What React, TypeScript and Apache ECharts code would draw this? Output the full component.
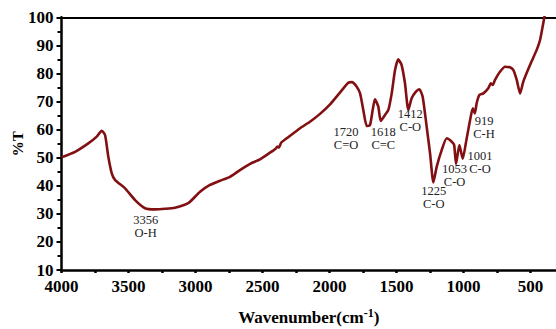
import React, { useEffect, useRef } from "react";
import * as echarts from "echarts";

const wavenumbers = [
  4000, 3899, 3800, 3737, 3700, 3675, 3651, 3625, 3601, 3526, 3451, 3377, 3302, 3228, 3153, 3054,
  2966, 2892, 2817, 2743, 2668, 2593, 2519, 2444, 2400, 2390, 2378, 2360, 2319, 2220, 2146, 2071,
  1996, 1922, 1860, 1834, 1797, 1772, 1748, 1722, 1698, 1678, 1661, 1636, 1618, 1586, 1561, 1536,
  1511, 1487, 1462, 1437, 1412, 1387, 1355, 1330, 1305, 1275, 1250, 1225, 1200, 1163, 1125, 1088,
  1070, 1056, 1031, 1006, 981, 951, 931, 916, 902, 882, 852, 815, 797, 782, 765, 728, 690, 653,
  628, 603, 578, 554, 504, 454, 429, 405, 392,
];
const transmittance = [
  50.1, 52.1, 55.1, 57.5, 59.6, 58.1, 50.4, 44.4, 42.1, 39.1, 34.9, 32.0, 31.6, 31.8, 32.2, 33.8,
  37.9, 40.3, 41.8, 43.2, 45.6, 47.8, 49.4, 51.8, 53.3, 54.0, 53.6, 55.4, 56.9, 60.5, 62.8, 65.6,
  69.0, 73.2, 76.7, 76.9, 75.3, 72.9, 67.0, 61.3, 61.6, 67.0, 70.8, 68.2, 63.1, 65.2, 67.0, 72.9,
  81.2, 85.0, 83.0, 76.5, 67.0, 71.2, 73.5, 74.4, 71.7, 61.0, 51.6, 41.2, 46.8, 52.7, 56.9, 55.7,
  54.5, 47.8, 54.5, 49.6, 55.7, 63.4, 67.6, 65.8, 69.4, 72.3, 72.9, 74.7, 76.5, 75.9, 77.7, 80.6,
  82.4, 82.2, 81.2, 77.7, 72.9, 77.1, 83.0, 88.4, 91.9, 97.9, 101.4,
];

const xLabelValues = [4000, 3500, 3000, 2500, 2000, 1500, 1000, 500];
const xTickValues = [4000, 3750, 3500, 3250, 3000, 2750, 2500, 2250, 2000, 1750, 1500, 1250, 1000, 750, 500];

const annotationTexts = ["3356\nO-H", "1720\nC=O", "1618\nC=C", "1412\nC-O", "1225\nC-O", "1053\nC-O", "1001\nC-O", "919\nC-H"];
const annotationX = [3372, 1877, 1599, 1397, 1222, 1067, 877, 847];
const annotationY = [25.6, 56.9, 56.9, 63.1, 35.8, 43.8, 48.4, 60.6];

const SERIF = '"Liberation Serif", "Times New Roman", serif';

export default function App() {
  const ref = useRef<HTMLDivElement>(null);
  useEffect(() => {
    if (!ref.current) return;
    const chart = echarts.init(ref.current, undefined, { renderer: "svg" });
    const data = wavenumbers.map((w, i) => [w, transmittance[i]]);
    const marks = annotationTexts.map((t, i) => ({
      coord: [annotationX[i], annotationY[i]],
      value: t,
    }));
    chart.setOption({
      animation: false,
      backgroundColor: "#ffffff",
      grid: { left: 61.5, top: 17.3, right: 0, bottom: 59, containLabel: false, outerBoundsMode: "none" },
      xAxis: [
        {
          type: "value",
          inverse: true,
          min: 310,
          max: 4000,
          position: "bottom",
          splitLine: { show: false },
          axisLine: { show: true, onZero: false, lineStyle: { color: "#000", width: 2.5 } },
          axisTick: { show: true, length: 3, customValues: xTickValues, lineStyle: { color: "#000", width: 2.5 } },
          axisLabel: {
            customValues: xLabelValues,
            formatter: (v: number) => String(v),
            margin: 8,
            color: "#000",
            fontFamily: SERIF,
            fontWeight: "bold",
            fontSize: 17,
          },
          name: "{a|Wavenumber(cm}{b|-1}{a|)}",
          nameLocation: "middle",
          nameGap: 37,
          nameMoveOverlap: false,
          nameTextStyle: {
            rich: {
              a: { fontFamily: SERIF, fontWeight: "bold", fontSize: 17, color: "#000", lineHeight: 20 },
              b: { fontFamily: SERIF, fontWeight: "bold", fontSize: 12, color: "#000", lineHeight: 20, verticalAlign: "top" },
            },
          },
        },
        {
          type: "value",
          inverse: true,
          min: 310,
          max: 4000,
          position: "top",
          splitLine: { show: false },
          axisLine: { show: true, onZero: false, lineStyle: { color: "#000", width: 2 } },
          axisTick: { show: false },
          axisLabel: { show: false },
        },
      ],
      yAxis: {
        type: "value",
        min: 10,
        max: 100,
        interval: 10,
        splitLine: { show: false },
        axisLine: { show: true, onZero: false, lineStyle: { color: "#000", width: 2.5 } },
        axisTick: { show: true, length: 5, lineStyle: { color: "#000", width: 2 } },
        minorTick: { show: true, splitNumber: 2, length: 4, lineStyle: { color: "#000", width: 2 } },
        axisLabel: {
          margin: 8,
          color: "#000",
          fontFamily: SERIF,
          fontWeight: "bold",
          fontSize: 17,
        },
        name: "%T",
        nameLocation: "middle",
        nameGap: 36,
        nameMoveOverlap: false,
        nameTextStyle: { fontFamily: SERIF, fontWeight: "bold", fontSize: 15, color: "#000" },
      },
      series: [
        {
          type: "line",
          data,
          xAxisIndex: 0,
          showSymbol: false,
          smooth: 0.2,
          clip: true,
          lineStyle: { color: "#820f12", width: 2.6 },
          itemStyle: { color: "#820f12" },
          markPoint: {
            symbol: "circle",
            symbolSize: 1,
            itemStyle: { color: "rgba(0,0,0,0)" },
            label: {
              show: true,
              position: "inside",
              formatter: (p: any) => p.value,
              color: "#222",
              fontFamily: SERIF,
              fontSize: 12.5,
              lineHeight: 13,
            },
            data: marks,
          },
        },
      ],
    });
    return () => chart.dispose();
  }, []);
  return (
    <div
      ref={ref}
      style={{ position: "fixed", left: 0, top: 0, width: 556, height: 329, background: "#fff" }}
    />
  );
}
